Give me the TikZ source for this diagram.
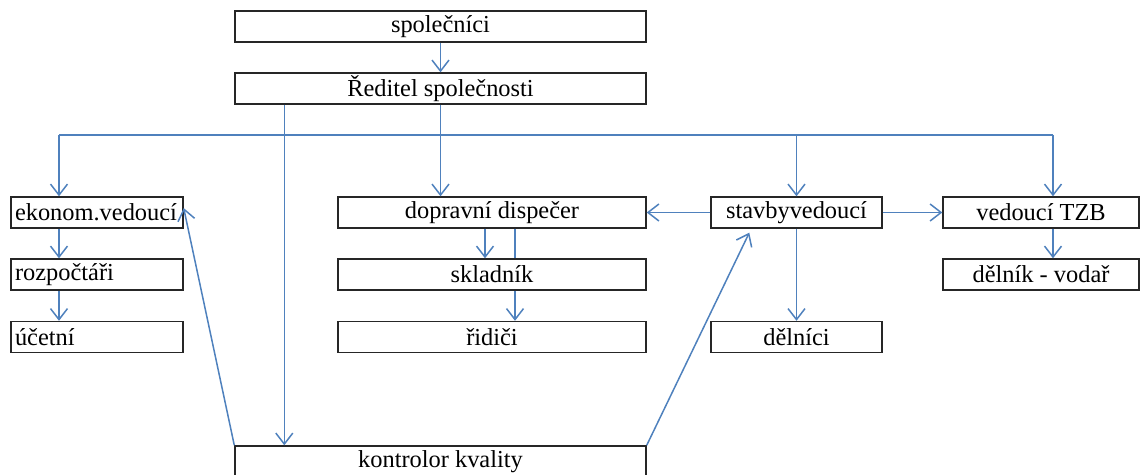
\documentclass[tikz,border=0pt]{standalone}
\usepackage{fontspec}
\setmainfont{Liberation Serif}
\usetikzlibrary{arrows.meta}
\definecolor{arrblue}{RGB}{79,129,189}
\begin{document}
\begin{tikzpicture}[x=0.5pt,y=-0.5pt,
  box/.style={draw=black!85, line width=0.7pt, minimum height=15.5pt, inner sep=0pt,
              font=\fontsize{12.2}{15}\selectfont},
  lbox/.style={box, inner xsep=2pt, text width=82pt, align=left},
  arr/.style={draw=arrblue, line width=0.75pt, -{Straight Barb[length=5.5pt,width=8.5pt]}},
  ln/.style={draw=arrblue, line width=0.75pt}]
\useasboundingbox (0,0) rectangle (1144,475);
\clip (0,0) rectangle (1144,475);

% boxes
\node[box, minimum width=205.5pt] (spol) at (440.5,26.5) {společníci};
\node[box, minimum width=205.5pt] (red) at (440.5,88.5) {Ředitel společnosti};
\node[lbox] (ekon) at (97,212.5) {ekonom.vedoucí};
\node[lbox] (rozp) at (97,274.5) {rozpočtáři};
\node[lbox] (ucet) at (97,337) {účetní};
\node[box, minimum width=154pt] (disp) at (492,212.5) {dopravní dispečer};
\node[box, minimum width=154pt] (sklad) at (492,274.5) {skladník};
\node[box, minimum width=154pt] (ridici) at (492,337) {řidiči};
\node[box, minimum width=85.5pt] (stavby) at (796.5,212.5) {stavbyvedoucí};
\node[box, minimum width=85.5pt] (delnici) at (796.5,337) {dělníci};
\node[box, minimum width=98pt] (tzb) at (1041,212.5) {vedoucí TZB};
\node[box, minimum width=98pt] (vodar) at (1041,274.5) {dělník - vodař};
\node[box, minimum width=205.5pt] (kontrol) at (440.5,461.5) {kontrolor kvality};

% bus
\coordinate (busL) at (59,135);
\coordinate (busR) at (1053,135);
\draw[ln] (busL) -- (busR);

% connectors
\draw[arr] (spol.south) -- (red.north);
\draw[arr] (red.south) -- (red.south |- disp.north);
\draw[arr] ([xshift=25pt]red.south west) -- ([xshift=25pt]red.south west |- kontrol.north);
\draw[arr] (busL) -- (busL |- ekon.north);
\draw[arr] (stavby.north |- busL) -- (stavby.north);
\draw[arr] (busR) -- (busR |- tzb.north);
\draw[arr] (busL |- ekon.south) -- (busL |- rozp.north);
\draw[arr] (busL |- rozp.south) -- (busL |- ucet.north);
\draw[arr] ([xshift=-3.5pt]disp.south) -- ([xshift=-3.5pt]sklad.north);
\draw[ln] ([xshift=11.5pt]disp.south) -- ([xshift=11.5pt]sklad.north);
\draw[arr] ([xshift=11.5pt]sklad.south) -- ([xshift=11.5pt]ridici.north);
\draw[arr] (stavby.west) -- (disp.east);
\draw[arr] (stavby.east) -- (tzb.west);
\draw[arr] (stavby.south) -- (delnici.north);
\draw[arr] (busR |- tzb.south) -- (busR |- vodar.north);
\draw[arr] (kontrol.north west) -- ([yshift=2.2pt]ekon.east);
\draw[arr] (kontrol.north east) -- ([xshift=19.5pt,yshift=-2pt]stavby.south west);
\end{tikzpicture}
\end{document}
